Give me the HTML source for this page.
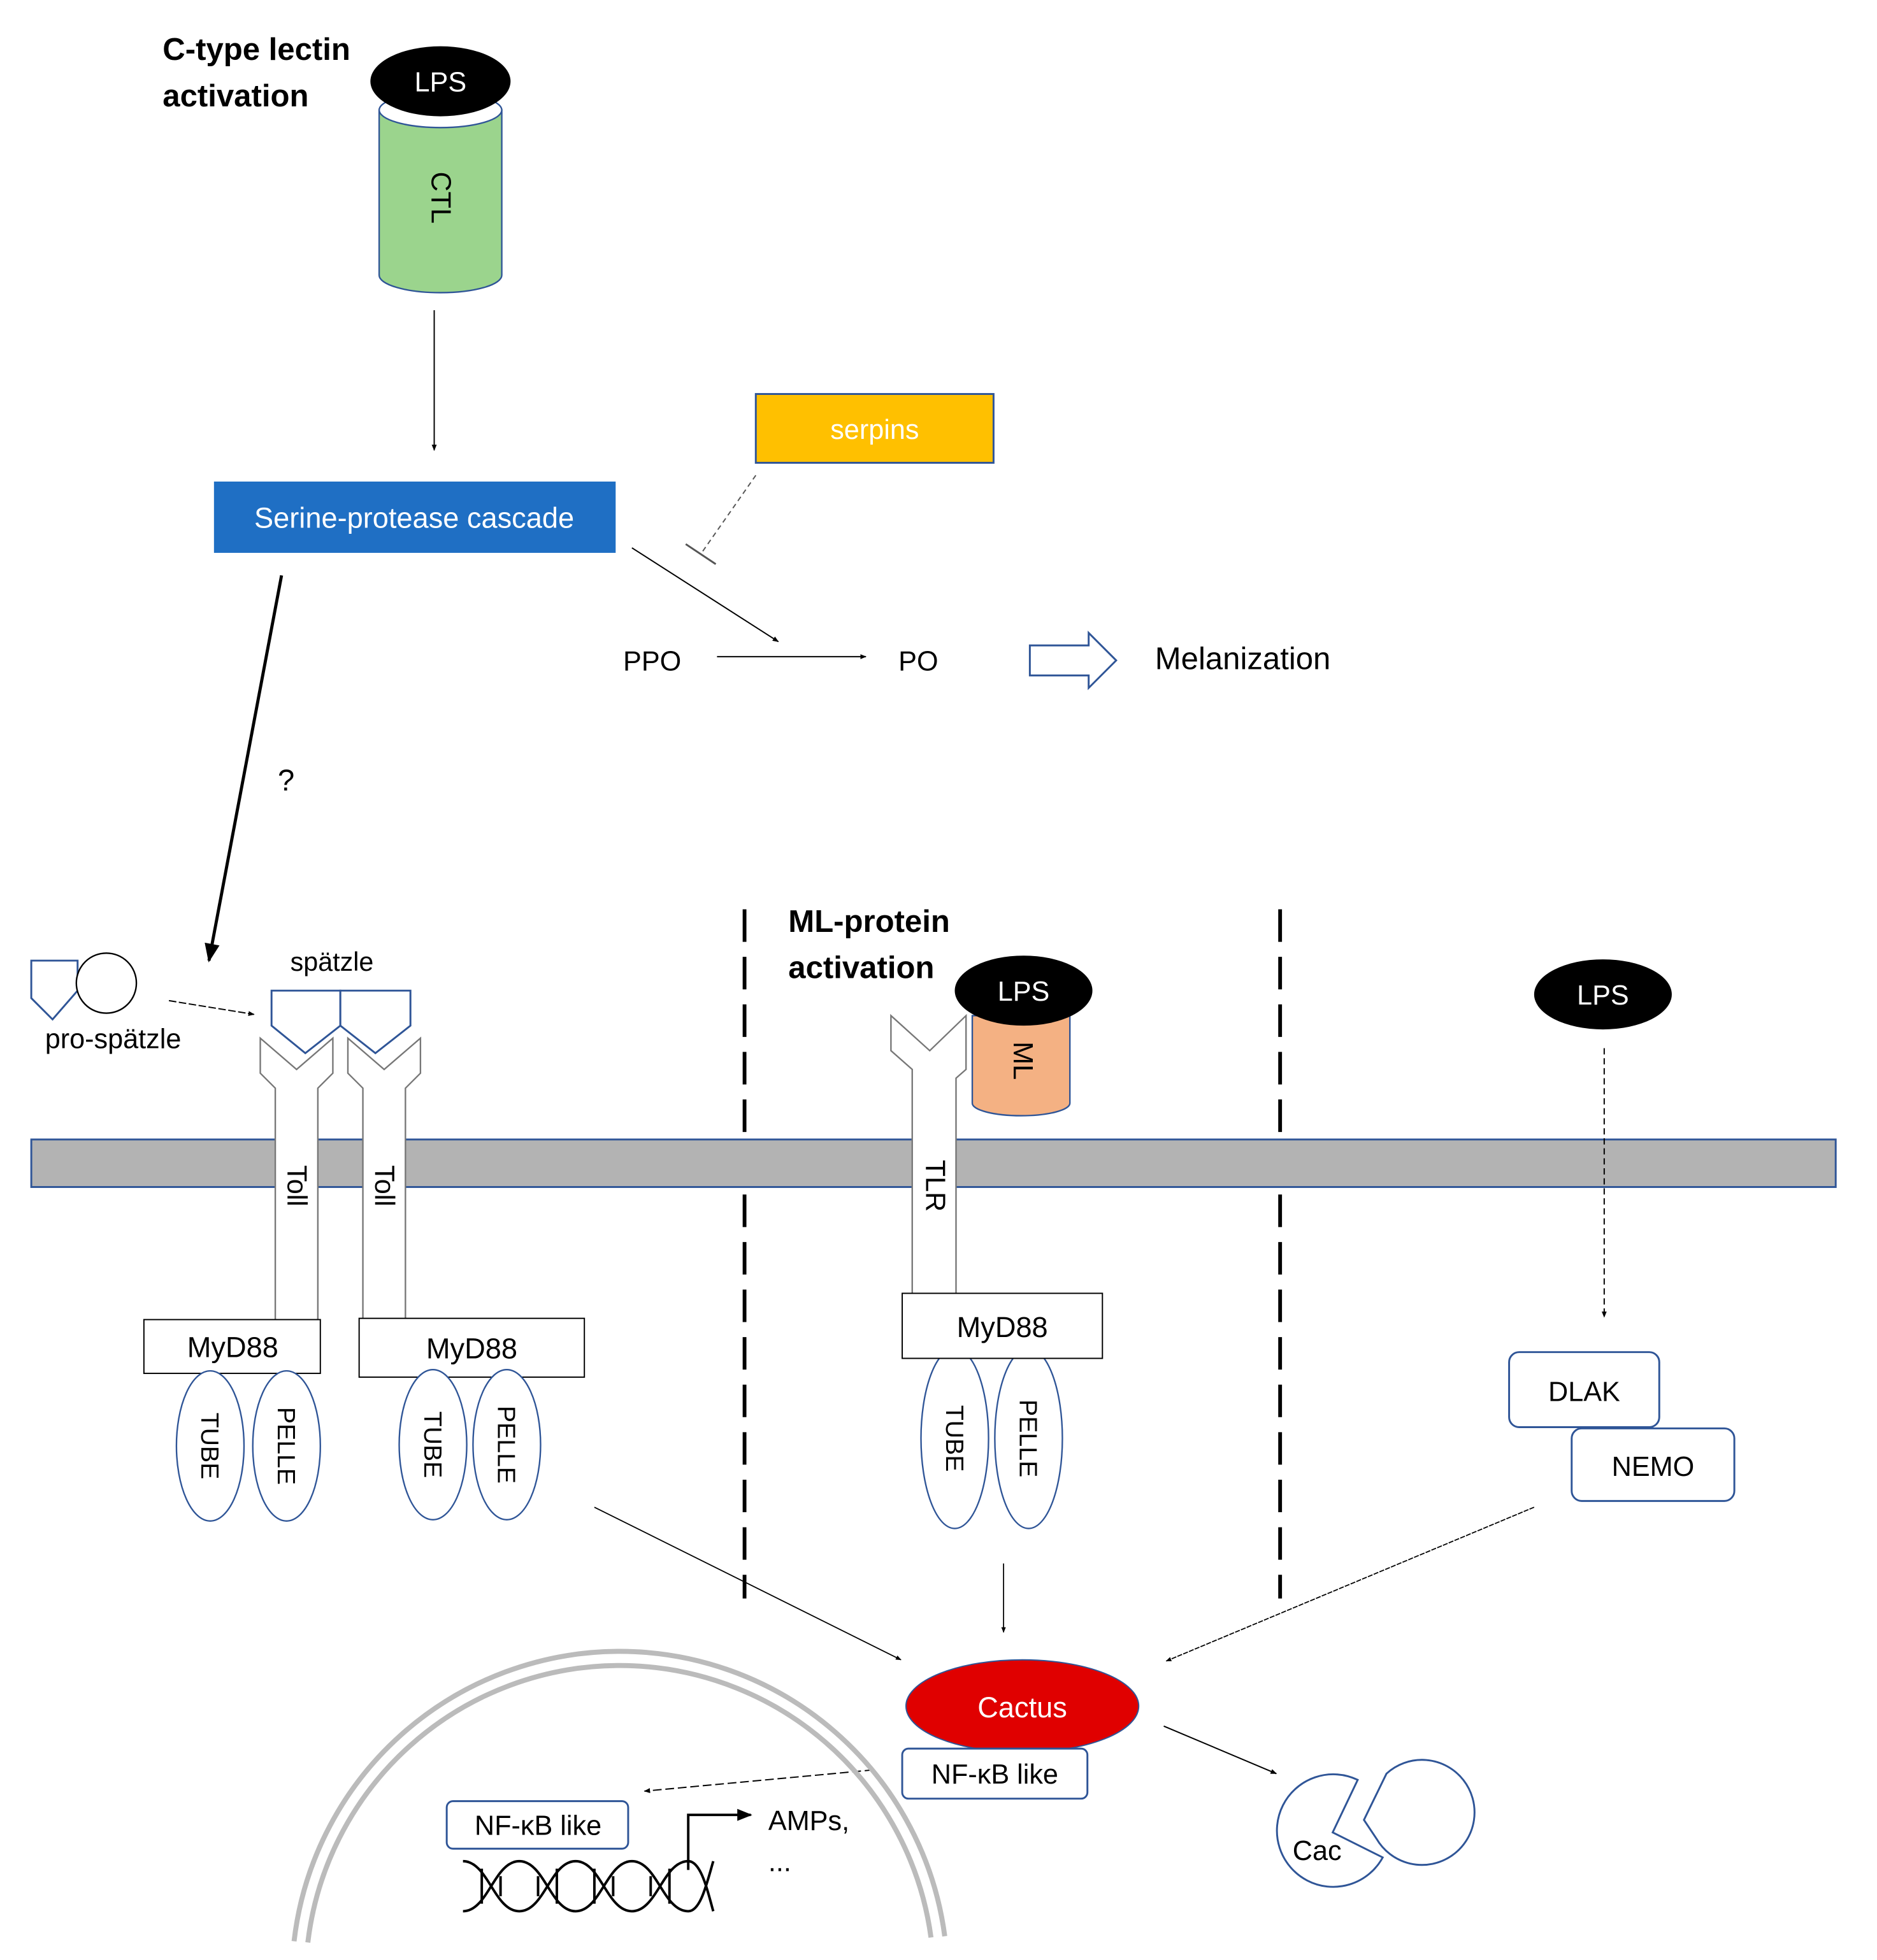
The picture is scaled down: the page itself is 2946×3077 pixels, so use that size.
<!DOCTYPE html>
<html><head><meta charset="utf-8"><style>html,body{margin:0;padding:0;background:#fff}svg{display:block}text{font-family:"Liberation Sans",sans-serif}</style></head>
<body>
<svg width="2946" height="3077" viewBox="0 0 1500 1567" preserveAspectRatio="none" xmlns="http://www.w3.org/2000/svg">
<defs>
<marker id="a" viewBox="0 0 10 10" refX="9" refY="5" markerWidth="6" markerHeight="6" orient="auto"><path d="M0,1 L10,5 L0,9z" fill="#000"/></marker>
<marker id="ab" viewBox="0 0 10 10" refX="9" refY="5" markerWidth="5" markerHeight="5" orient="auto"><path d="M0,1 L10,5 L0,9z" fill="#000"/></marker>
</defs>
<rect width="1500" height="1567" fill="#fff"/>
<text x="130" y="48" font-size="25" font-weight="bold">C-type lectin</text>
<text x="130" y="85" font-size="25" font-weight="bold">activation</text>
<path d="M303,88 L303,220 A49,14 0 0 0 401,220 L401,88 Z" fill="#9bd48d" stroke="#2f5597" stroke-width="1.2"/>
<ellipse cx="352" cy="88" rx="49" ry="14" fill="#fff" stroke="#2f5597" stroke-width="1.2"/>
<ellipse cx="352" cy="65" rx="56" ry="28" fill="#000"/>
<text x="352" y="73" font-size="22" fill="#fff" text-anchor="middle">LPS</text>
<text transform="translate(345,158) rotate(90)" font-size="22" text-anchor="middle">CTL</text>
<line x1="347" y1="248" x2="347" y2="360" stroke="#000" stroke-width="1" marker-end="url(#ab)"/>
<rect x="171" y="385" width="321" height="57" fill="#1f6fc4"/>
<text x="331" y="422" font-size="23" fill="#fff" text-anchor="middle">Serine-protease cascade</text>
<rect x="604" y="315" width="190" height="55" fill="#ffc000" stroke="#2f5597" stroke-width="1.5"/>
<text x="699" y="351" font-size="22" fill="#fff" text-anchor="middle">serpins</text>
<line x1="604" y1="380" x2="560" y2="443" stroke="#555" stroke-dasharray="4,3"/>
<line x1="548" y1="435" x2="572" y2="451" stroke="#555" stroke-width="1.5"/>
<line x1="505" y1="438" x2="622" y2="513" stroke="#000" marker-end="url(#ab)"/>
<text x="498" y="536" font-size="22">PPO</text>
<line x1="573" y1="525" x2="692" y2="525" stroke="#000" marker-end="url(#ab)"/>
<text x="718" y="536" font-size="22">PO</text>
<path d="M823,516 L870,516 L870,506 L892,528 L870,550 L870,540 L823,540 Z" fill="#fff" stroke="#2f5597" stroke-width="1.5"/>
<text x="923" y="535" font-size="25">Melanization</text>
<line x1="225" y1="460" x2="167" y2="768" stroke="#000" stroke-width="2.5" marker-end="url(#a)"/>
<text x="222" y="632" font-size="24">?</text>
<line x1="595" y1="727" x2="595" y2="1278" stroke="#000" stroke-width="3" stroke-dasharray="26,12"/>
<line x1="1023" y1="727" x2="1023" y2="1278" stroke="#000" stroke-width="3" stroke-dasharray="26,12"/>
<rect x="25" y="911" width="1442" height="38" fill="#b3b3b3" stroke="#2f5597" stroke-width="1.5"/>
<path d="M25,768 L62,768 L62,792 L42,815 L25,798 Z" fill="#fff" stroke="#2f5597" stroke-width="1.5"/>
<circle cx="85" cy="786" r="24" fill="#fff" stroke="#000" stroke-width="1.2"/>
<text x="36" y="838" font-size="22">pro-spätzle</text>
<line x1="135" y1="800" x2="203" y2="811" stroke="#000" stroke-dasharray="6,2" marker-end="url(#ab)"/>
<text x="232" y="776" font-size="21">spätzle</text>
<path d="M220,1055 L220,870 L208,858 L208,830 L237,855 L266,830 L266,858 L254,870 L254,1055" fill="#fff" stroke="#777" stroke-width="1.2"/>
<path d="M290,1055 L290,870 L278,858 L278,830 L307,855 L336,830 L336,858 L324,870 L324,1055" fill="#fff" stroke="#777" stroke-width="1.2"/>
<path d="M217,792 L272,792 L272,820 L244,842 L217,820 Z" fill="#fff" stroke="#2f5597" stroke-width="1.5"/>
<path d="M272,792 L328,792 L328,820 L300,842 L272,820 Z" fill="#fff" stroke="#2f5597" stroke-width="1.5"/>
<rect x="221" y="912" width="32" height="36" fill="#fff"/>
<rect x="291" y="912" width="32" height="36" fill="#fff"/>
<text transform="translate(230,948) rotate(90)" font-size="22" text-anchor="middle">Toll</text>
<text transform="translate(300,948) rotate(90)" font-size="22" text-anchor="middle">Toll</text>
<rect x="115" y="1055" width="141" height="43" fill="#fff" stroke="#000"/>
<text x="186" y="1085" font-size="23" text-anchor="middle">MyD88</text>
<rect x="287" y="1054" width="180" height="47" fill="#fff" stroke="#000"/>
<text x="377" y="1086" font-size="23" text-anchor="middle">MyD88</text>
<g fill="#fff" stroke="#2f5597" stroke-width="1.2">
<ellipse cx="168" cy="1156" rx="27" ry="60"/><ellipse cx="229" cy="1156" rx="27" ry="60"/>
<ellipse cx="346" cy="1155" rx="27" ry="60"/><ellipse cx="405" cy="1155" rx="27" ry="60"/>
<ellipse cx="763" cy="1150" rx="27" ry="72"/><ellipse cx="822" cy="1150" rx="27" ry="72"/>
</g>
<g font-size="20" text-anchor="middle">
<text transform="translate(161,1156) rotate(90)">TUBE</text>
<text transform="translate(222,1156) rotate(90)">PELLE</text>
<text transform="translate(339,1155) rotate(90)">TUBE</text>
<text transform="translate(398,1155) rotate(90)">PELLE</text>
<text transform="translate(756,1150) rotate(90)">TUBE</text>
<text transform="translate(815,1150) rotate(90)">PELLE</text>
</g>
<text x="630" y="745" font-size="25" font-weight="bold">ML-protein</text>
<text x="630" y="782" font-size="25" font-weight="bold">activation</text>
<path d="M729,1034 L729,855 L712,840 L712,812 L743,840 L772,812 L772,855 L764,862 L764,1034" fill="#fff" stroke="#777" stroke-width="1.2"/>
<rect x="730" y="912" width="33" height="36" fill="#fff"/>
<text transform="translate(740,948) rotate(90)" font-size="22" text-anchor="middle">TLR</text>
<path d="M777,812 L777,882 A39,10 0 0 0 855,882 L855,812 Z" fill="#f4b183" stroke="#2f5597" stroke-width="1.2"/>
<ellipse cx="818" cy="792" rx="55" ry="28" fill="#000"/>
<text x="818" y="800" font-size="22" fill="#fff" text-anchor="middle">LPS</text>
<text transform="translate(810,848) rotate(90)" font-size="22" text-anchor="middle">ML</text>
<rect x="721" y="1034" width="160" height="52" fill="#fff" stroke="#000"/>
<text x="801" y="1069" font-size="23" text-anchor="middle">MyD88</text>
<ellipse cx="1281" cy="795" rx="55" ry="28" fill="#000"/>
<text x="1281" y="803" font-size="22" fill="#fff" text-anchor="middle">LPS</text>
<line x1="1282" y1="838" x2="1282" y2="1053" stroke="#000" stroke-dasharray="5,3" marker-end="url(#ab)"/>
<rect x="1206" y="1081" width="120" height="60" rx="8" fill="#fff" stroke="#2f5597" stroke-width="1.5"/>
<text x="1266" y="1120" font-size="22" text-anchor="middle">DLAK</text>
<rect x="1256" y="1142" width="130" height="58" rx="8" fill="#fff" stroke="#2f5597" stroke-width="1.5"/>
<text x="1321" y="1180" font-size="22" text-anchor="middle">NEMO</text>
<line x1="475" y1="1205" x2="720" y2="1327" stroke="#000" stroke-width="0.9" marker-end="url(#ab)"/>
<line x1="802" y1="1250" x2="802" y2="1305" stroke="#000" stroke-width="0.9" marker-end="url(#ab)"/>
<line x1="1226" y1="1205" x2="932" y2="1328" stroke="#000" stroke-width="0.9" stroke-dasharray="4,1" marker-end="url(#ab)"/>
<ellipse cx="817" cy="1364" rx="93" ry="37" fill="#e00000" stroke="#2f5597" stroke-width="1"/>
<text x="817" y="1373" font-size="23" fill="#fff" text-anchor="middle">Cactus</text>
<rect x="721" y="1398" width="148" height="40" rx="5" fill="#fff" stroke="#2f5597" stroke-width="1.5"/>
<text x="795" y="1426" font-size="22" text-anchor="middle">NF-κB like</text>
<line x1="698" y1="1415" x2="515" y2="1432" stroke="#000" stroke-dasharray="7,3" marker-end="url(#ab)"/>
<path d="M235,1552 A262,262 0 0 1 755,1548" fill="none" stroke="#bbb" stroke-width="4"/>
<path d="M246,1553 A251,251 0 0 1 744,1549" fill="none" stroke="#bbb" stroke-width="4"/>
<rect x="357" y="1440" width="145" height="38" rx="5" fill="#fff" stroke="#2f5597" stroke-width="1.5"/>
<text x="430" y="1467" font-size="22" text-anchor="middle">NF-κB like</text>
<g fill="none" stroke="#000" stroke-width="2">
<path d="M370,1488 C390,1488 395,1528 415,1528 C435,1528 440,1488 460,1488 C480,1488 485,1528 505,1528 C525,1528 530,1488 550,1488 C560,1488 565,1510 570,1528"/>
<path d="M370,1528 C390,1528 395,1488 415,1488 C435,1488 440,1528 460,1528 C480,1528 485,1488 505,1488 C525,1488 530,1528 550,1528 C560,1528 565,1505 570,1488"/>
<path d="M385,1494 L385,1522 M400,1500 L400,1516 M430,1500 L430,1516 M445,1494 L445,1522 M475,1494 L475,1522 M490,1500 L490,1516 M520,1500 L520,1516 M535,1494 L535,1522"/>
</g>
<path d="M550,1495 L550,1451 L600,1451" fill="none" stroke="#000" stroke-width="2" marker-end="url(#a)"/>
<text x="614" y="1463" font-size="22">AMPs,</text>
<text x="614" y="1496" font-size="22">...</text>
<line x1="930" y1="1380" x2="1020" y2="1418" stroke="#000" marker-end="url(#ab)"/>
<path d="M1105,1485 A45,45 0 1 1 1085,1423 L1065,1465 Z" fill="#fff" stroke="#2f5597" stroke-width="1.5"/>
<path d="M1090,1455 L1108,1418 A42,42 0 1 1 1100,1470 Z" fill="#fff" stroke="#2f5597" stroke-width="1.5"/>
<text x="1033" y="1487" font-size="22">Cac</text>
</svg>
</body></html>
